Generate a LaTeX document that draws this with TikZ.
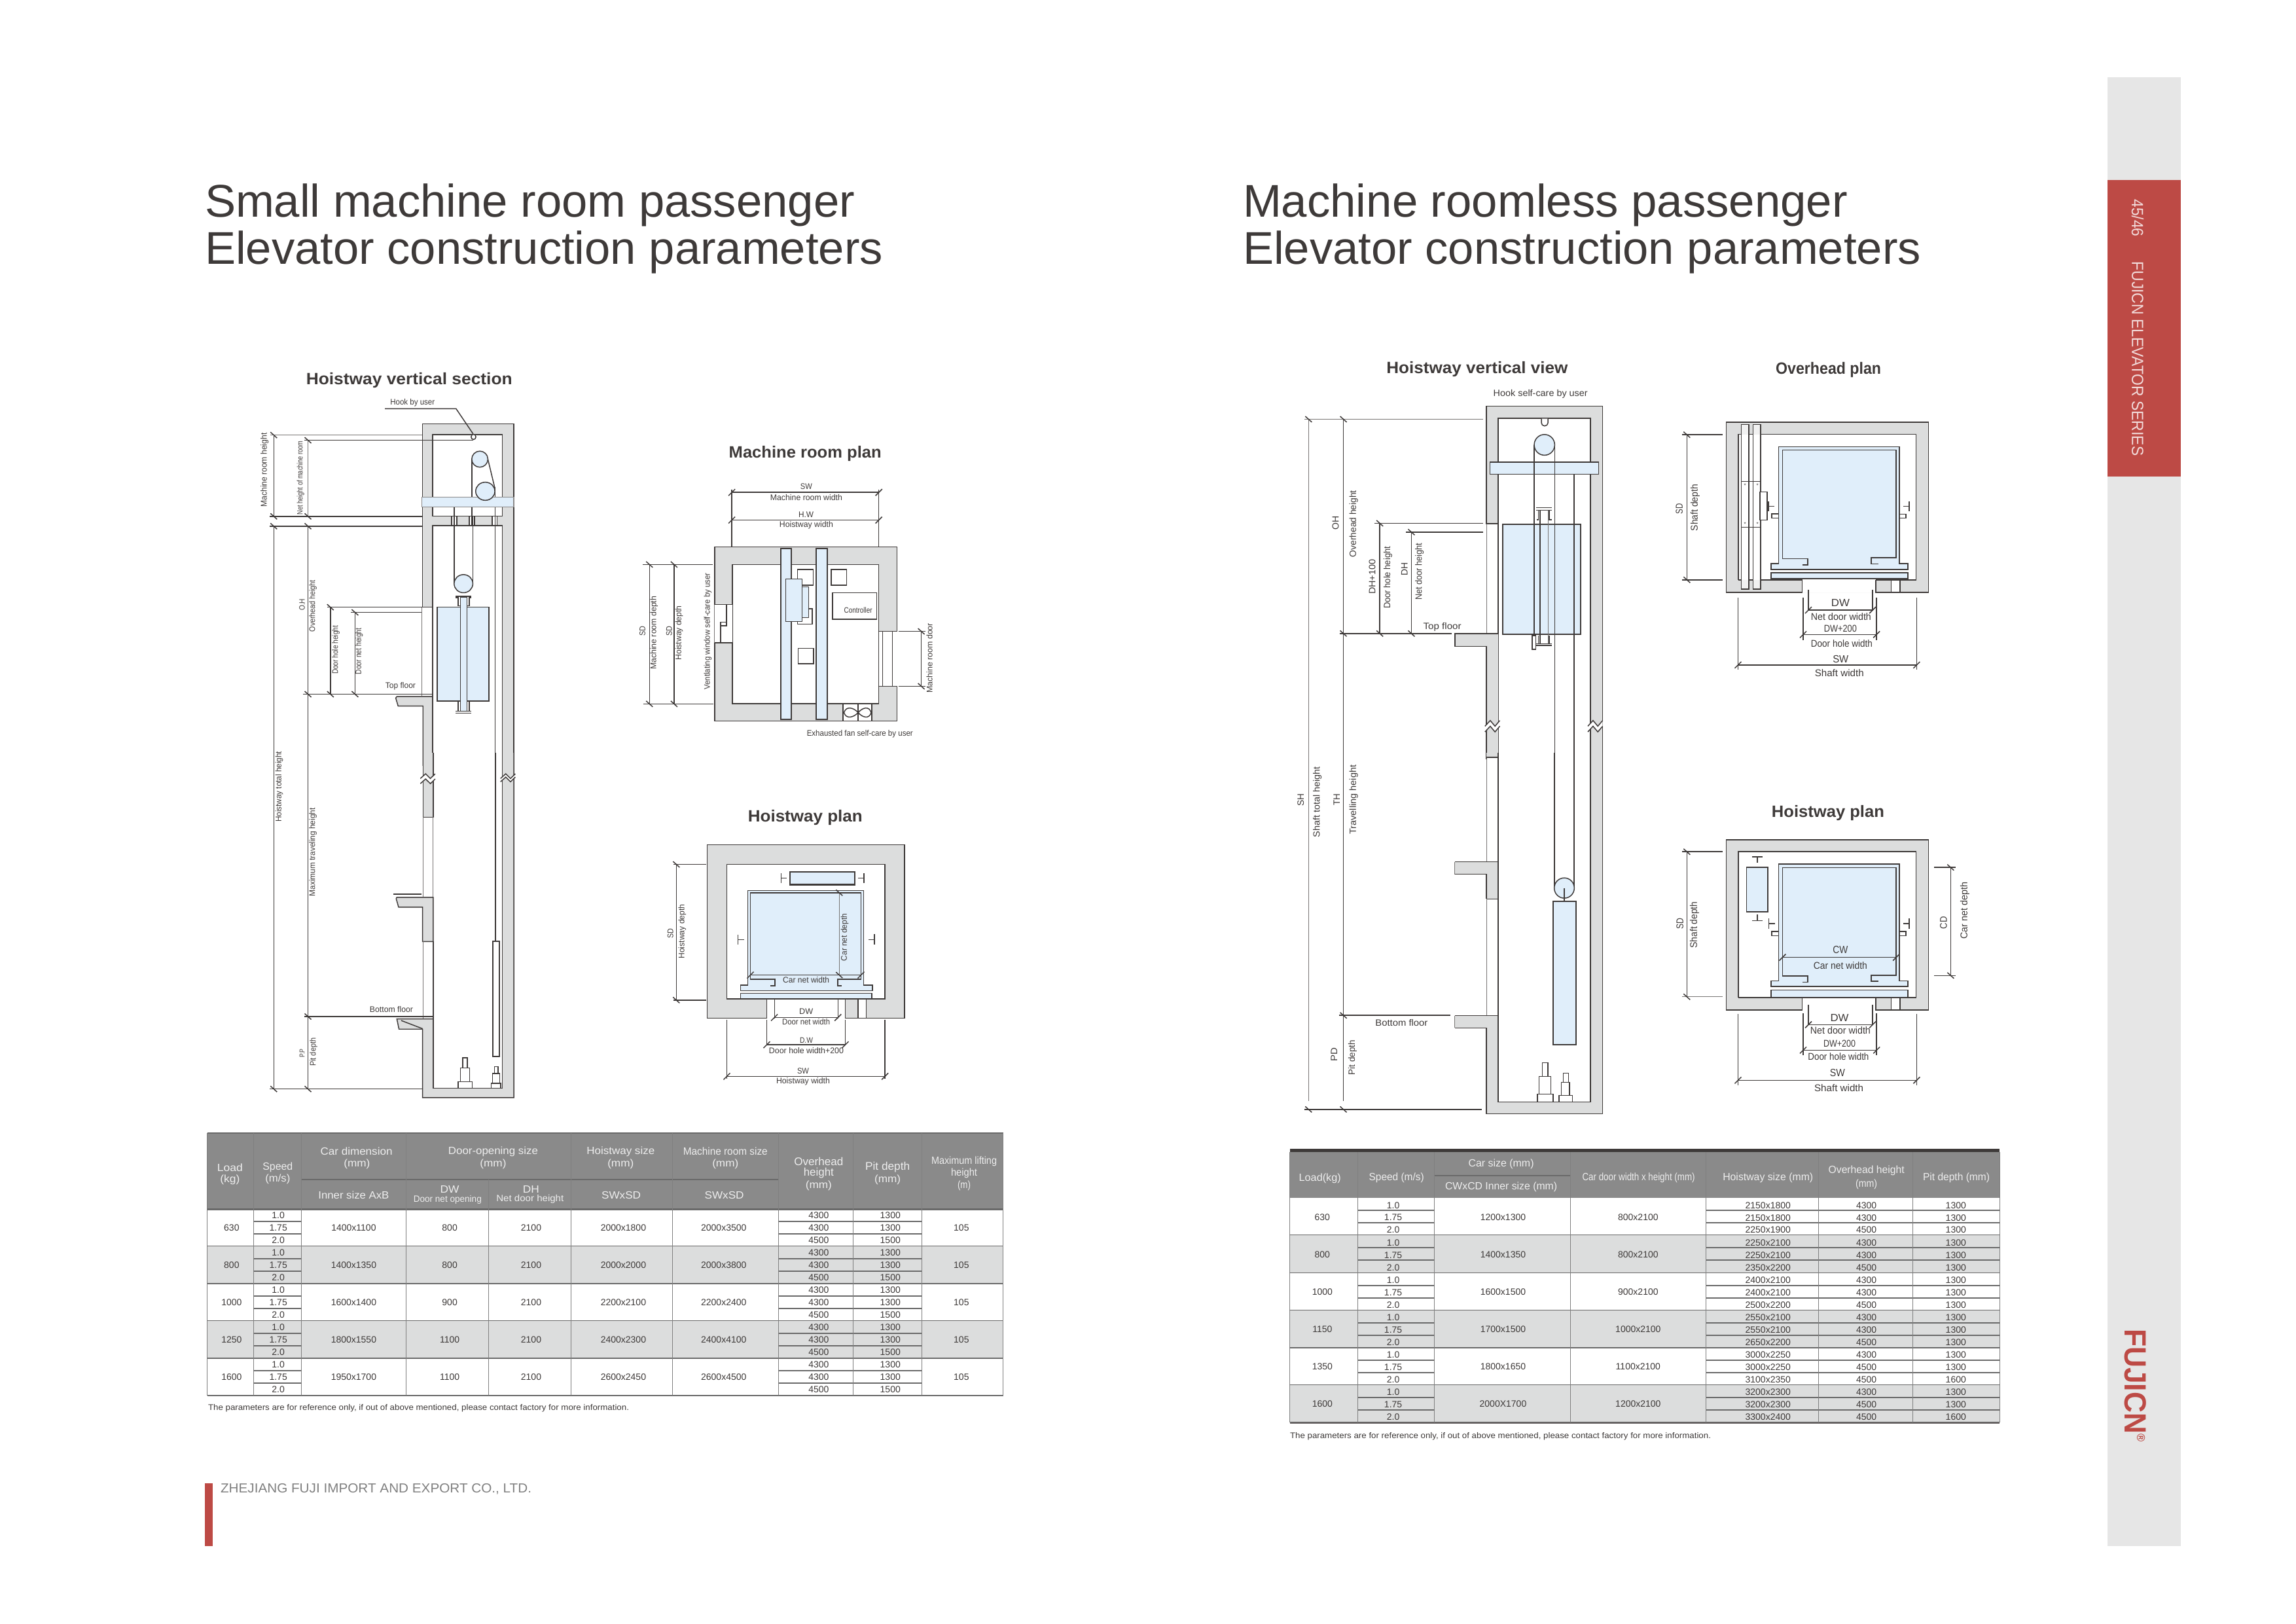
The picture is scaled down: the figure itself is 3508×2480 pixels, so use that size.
\documentclass[tikz,border=0pt]{standalone}
\usepackage{graphicx}
\usepackage{fontspec}
\setmainfont{Liberation Sans}
\definecolor{ink}{HTML}{3E3A39}
\definecolor{wallc}{HTML}{DCDDDD}
\definecolor{bluec}{HTML}{E0EEFA}
\definecolor{hdrc}{HTML}{8A8A8A}
\definecolor{hdrt}{HTML}{EDEDED}
\definecolor{redc}{HTML}{BD4A45}
\definecolor{sidec}{HTML}{E6E6E6}
\definecolor{rulec}{HTML}{6A6A6A}
\tikzset{
  zm/.style n args={4}{shift={(#1,#2)},x=#3cm,y=-#4cm},
  txt/.style={inner sep=0pt,outer sep=0pt,text=ink},
  sub/.style={font=\bfseries,yshift=-0.03cm},
  ln/.style={draw=ink,line width=.42pt},
  thk/.style={draw=ink,line width=.52pt},
  thn/.style={draw=ink!70,line width=.3pt},
  wl/.style={fill=wallc,even odd rule},
  bl/.style={draw=ink,line width=.42pt,fill=bluec},
  wt/.style={draw=ink,line width=.42pt,fill=white},
  hd/.style={text=hdrt},
  rl/.style={draw=rulec,line width=.55pt},
  cl/.style={draw=rulec!85,line width=.28pt}
}
\newcounter{lbn}
\newcommand{\Lb}[7][]{\stepcounter{lbn}\pgfmathsetmacro\lbf{#5*0.2845}\pgfmathsetmacro\lbw{#6*0.01}\node[txt,rotate=#4,#1] (t\thelbn) at (#2,#3) {\fontsize{\lbf pt}{\lbf pt}\selectfont\resizebox{\lbw cm}{\height}{#7}};}
\newcommand{\Nb}[5][]{\stepcounter{lbn}\pgfmathsetmacro\lbf{#4*0.2845}\node[txt,#1] (t\thelbn) at (#2,#3) {\fontsize{\lbf pt}{\lbf pt}\selectfont #5};}
\newcommand{\tkb}[2]{\draw[ln] (#1,#2) ++(-0.05cm,0.045cm) -- ++(0.1cm,-0.09cm);}
\newcommand{\tkf}[2]{\draw[ln] (#1,#2) ++(-0.05cm,-0.05cm) -- ++(0.1cm,0.1cm);}
\newcommand{\brk}[4]{%
 \fill[white] (#1,#2) -- ({#1+24},{#2-#4}) -- ({#1+46},#2) -- ({#1+68},{#2-#4}) -- ({#1+68},{#2-#4+#3}) -- ({#1+46},{#2+#3}) -- ({#1+24},{#2-#4+#3}) -- (#1,{#2+#3}) -- cycle;
 \draw[ln] (#1,#2) -- ({#1+24},{#2-#4}) -- ({#1+46},#2) -- ({#1+68},{#2-#4});
 \draw[ln] (#1,{#2+#3}) -- ({#1+24},{#2-#4+#3}) -- ({#1+46},{#2+#3}) -- ({#1+68},{#2-#4+#3});}
\begin{document}
\begin{tikzpicture}[x=0.01cm,y=-0.01cm]
\useasboundingbox (0,0) rectangle (3508,2480);
\fill[white] (0,0) rectangle (3508,2480);
% sidebar
\fill[sidec] (3220,118) rectangle (3332,2362);
\fill[redc] (3220,275) rectangle (3332,728);
\Lb[text=white!80!redc]{3266}{333}{-90}{25}{57}{45/46}
\Lb[text=white!80!redc]{3266}{548}{-90}{25}{297}{FUJICN ELEVATOR SERIES}
\Lb[font=\bfseries,text=redc]{3263}{2117}{-90}{47}{174}{FUJICN\textsuperscript{\tiny ®}}
% titles
\Lb[anchor=west,text=ink]{313}{313}{0}{70}{993}{Small machine room passenger}
\Lb[anchor=west,text=ink]{313}{385}{0}{70}{1036}{Elevator construction parameters}
\Lb[anchor=west,text=ink]{1899}{313}{0}{70}{924}{Machine roomless passenger}
\Lb[anchor=west,text=ink]{1899}{385}{0}{70}{1036}{Elevator construction parameters}
% footer
\fill[redc] (313,2266) rectangle (325,2362);
\Lb[anchor=west,text=gray]{337}{2275}{0}{20}{475}{ZHEJIANG FUJI IMPORT AND EXPORT CO., LTD.}
% notes
\Lb[anchor=west]{318}{2151}{0}{12.5}{643}{The parameters are for reference only, if out of above mentioned, please contact factory for more information.}
\Lb[anchor=west]{1971}{2194}{0}{12.5}{643}{The parameters are for reference only, if out of above mentioned, please contact factory for more information.}

% ---------- Section 1, upper
\begin{scope}[zm={380}{550}{0.003333}{0.003954}]
\Lb[sub]{737}{72}{0}{25}{315}{Hoistway vertical section}
\fill[wl] (797,247) -- (1217,247) -- (1217,1568) -- (1165,1568) -- (1165,640) -- (845,640) -- (845,955) -- (797,955) -- cycle (845,288) rectangle (1165,603);
\draw[ln] (845,955) -- (797,955) -- (797,247) -- (1217,247) -- (1217,1568);
\draw[ln] (1165,1568) -- (1165,640) -- (845,640) -- (845,955);
\draw[ln] (845,288) rectangle (1165,603);
\fill[wl] (845,1300) -- (680,1300) -- (675,1306) -- (686,1337) -- (800,1337) -- (800,1568) -- (845,1568) -- cycle;
\draw[ln] (845,1300) -- (680,1300) -- (675,1306) -- (686,1337) -- (800,1337) -- (800,1568);
\draw[ln] (845,955) -- (845,1568);
\draw[thn] (795,955) -- (795,1300);
\draw[wt] (932,603) rectangle (955,640);
\draw[wt] (1013,603) rectangle (1037,640);
\draw[wt] (1118,603) rectangle (1140,640);
\draw[ln] (1024,383) -- (1024,603);
\draw[ln] (1029,603) -- (1029,865);
\draw[ln] (1024,603) -- (1024,640);
\draw[ln] (943,567) -- (943,860);
\draw[ln] (1131,490) -- (1131,1568);
\draw[ln] (1098,383) -- (1130,495);
\draw[draw=ink!60,line width=.3pt,fill=bluec] (795,530) rectangle (1217,567);
\draw[bl] (1061,383) ellipse [x radius=37,y radius=31];
\draw[bl] (1086,507) ellipse [x radius=44,y radius=35];
\draw[bl] (986,864) ellipse [x radius=43,y radius=35];
\draw[bl] (865,955) rectangle (1103,1317);
\draw[bl] (972,915) rectangle (1002,1357);
\draw[thk] (950,912) -- (1022,912);
\draw[ln] (950,918) -- (962,918) -- (962,950) -- (972,950);
\draw[ln] (1022,918) -- (1012,918) -- (1012,950) -- (1002,950);
\draw[ln] (962,1317) -- (962,1357);
\draw[ln] (1012,1317) -- (1012,1357);
\draw[ln] (950,1357) -- (1022,1357);
\draw[ln] (950,1364) -- (1022,1364);
% hook
\Lb{752}{165}{0}{12.5}{68}{Hook by user}
\draw[ln] (625,188) coordinate (hka) -- (952,188) -- (1030,285);
\draw[wt] (1032,297) ellipse [x radius=11,y radius=10];
% dims
\draw[thn] (100,290) -- (797,290);
\draw[ln] (255,310) -- (1030,310);
\draw[ln] (95,604) -- (797,604);
\draw[ln] (95,642) -- (797,642);
\draw[ln] (360,955) -- (795,955);
\draw[ln] (470,975) -- (792,975);
\draw[ln] (250,1291) -- (845,1291);
\draw[ln] (115,290) -- (115,604);
\draw[thn] (272,310) -- (272,604);
\draw[ln] (115,642) -- (115,1568);
\draw[ln] (272,642) -- (272,1568);
\draw[ln] (375,955) -- (375,1291);
\draw[ln] (488,975) -- (488,1291);
\tkb{115}{290}\tkb{272}{310}\tkb{115}{604}\tkb{272}{604}\tkb{115}{642}\tkb{272}{642}
\tkb{375}{955}\tkb{488}{975}\tkb{272}{1291}\tkb{375}{1291}\tkb{488}{1291}
\Lb{73}{425}{90}{13}{113}{Machine room height}
\Lb{238}{455}{90}{12}{113}{Net height of machine room}
\Lb{245}{945}{90}{12}{18}{O.H}
\Lb{295}{950}{90}{12.5}{79}{Overhead height}
\Lb{400}{1120}{90}{12.5}{74}{Door hole height}
\Lb{507}{1125}{90}{12.5}{71}{Door net height}
\Lb{697}{1260}{0}{12.5}{46}{Top floor}
\end{scope}

% ---------- Section 1, lower
\begin{scope}[zm={380}{1150}{0.003333}{0.003571}]
\fill[wl] (800,0) rectangle (845,275);
\draw[ln] (800,0) -- (800,275) -- (847,275) -- (847,0);
\draw[thn] (800,275) -- (800,618);
\draw[thn] (847,275) -- (847,618);
\fill[wl] (847,618) -- (680,618) -- (677,624) -- (688,660) -- (798,660) -- (798,807) -- (847,807) -- cycle;
\draw[ln] (847,618) -- (680,618) -- (677,624) -- (688,660) -- (798,660) -- (798,807) -- (847,807) -- cycle;
\draw[thn] (800,807) -- (800,1138);
\draw[ln] (847,807) -- (847,1138);
\fill[wl] (847,1138) -- (680,1138) -- (690,1182) -- (798,1182) -- (798,1475) -- (1217,1475) -- (1217,0) -- (1165,0) -- (1165,1435) -- (848,1435) -- cycle;
\draw[ln] (847,1138) -- (680,1138) -- (690,1182) -- (798,1182) -- (798,1475) -- (1217,1475) -- (1217,0);
\draw[ln] (1165,0) -- (1165,1435) -- (848,1435) -- (848,1138);
\draw[ln] (700,1145) -- (798,1180);
\brk{788}{110}{22}{20}
\brk{1156}{110}{14}{20}
\draw[ln] (1133,0) -- (1133,806);
\draw[wt,line width=.6pt] (1121,806) rectangle (1150,1298);
\draw[wt] (983,1304) rectangle (1003,1348);
\draw[wt] (972,1348) rectangle (1014,1407);
\draw[wt] (962,1407) rectangle (1026,1435);
\draw[wt] (1128,1342) rectangle (1145,1372);
\draw[wt] (1120,1372) rectangle (1153,1414);
\draw[wt] (1114,1414) rectangle (1157,1435);
\draw[ln,dashed,dash pattern=on 12pt off 5pt] (665,604) -- (825,604);
\draw[ln] (115,0) -- (115,1438);
\draw[ln] (272,0) -- (272,1438);
\draw[ln] (255,1128) -- (847,1128);
\draw[ln] (95,1438) -- (797,1438);
\tkb{272}{1128}\tkb{115}{1438}\tkb{272}{1438}
\Lb{140}{145}{90}{12.5}{108}{Hoistway total height}
\Lb{295}{425}{90}{12.5}{135}{Maximum traveling height}
\Lb{655}{1097}{0}{12.5}{66}{Bottom floor}
\Lb{245}{1285}{90}{11}{13}{P.P}
\Lb{298}{1280}{90}{12.5}{43}{Pit depth}
\end{scope}

% ---------- Machine room plan
\begin{scope}[zm={960}{670}{0.003333}{0.003333}]
\Lb[sub]{812}{60}{0}{25}{233}{Machine room plan}
\fill[wl] (396,497) rectangle (1233,1297) (478,578) rectangle (1150,1217);
\draw[ln] (396,497) rectangle (1233,1297);
\draw[ln] (478,578) rectangle (1150,1217);
\fill[white] (1151,885) rectangle (1234,1137);
\draw[ln] (1150,885) -- (1233,885);
\draw[ln] (1150,1137) -- (1233,1137);
\draw[ln] (1167,885) -- (1167,1137);
\draw[ln] (1213,885) -- (1213,1137);
\fill[white] (395,762) rectangle (477,937);
\draw[ln] (396,762) -- (478,762);
\draw[ln] (396,937) -- (478,937);
\draw[ln] (450,762) -- (450,860) -- (423,860) -- (423,937);
\draw[ln] (423,842) -- (450,842);
\draw[ln] (423,842) -- (423,860);
\draw[thn] (396,762) -- (396,937);
\draw[wt] (986,1217) rectangle (1118,1297);
\draw[ln] (1055,1217) -- (1055,1297);
\draw[ln] (990,1258) .. controls (1000,1225) and (1035,1235) .. (1055,1258) .. controls (1075,1280) and (1105,1290) .. (1115,1258) .. controls (1105,1225) and (1075,1235) .. (1055,1258) .. controls (1035,1280) and (1000,1290) .. (990,1258);
\draw[bl,line width=.6pt] (699,505) rectangle (749,1290);
\draw[bl,line width=.6pt] (863,505) rectangle (913,1290);
\draw[wt] (776,601) rectangle (849,673);
\draw[wt] (931,601) rectangle (1002,673);
\draw[wt] (776,781) rectangle (845,852);
\draw[wt] (779,963) rectangle (850,1034);
\draw[bl] (797,681) rectangle (828,821);
\draw[bl] (722,645) rectangle (797,840);
\draw[wt] (938,707) rectangle (1141,829);
\Lb{1055}{788}{0}{12}{43}{Controller}
\draw[ln] (475,235) -- (475,497);
\draw[ln] (1150,235) -- (1150,497);
\draw[ln] (475,247) -- (1150,247);
\draw[ln] (475,374) -- (1150,374);
\tkf{475}{247}\tkf{1150}{247}\tkf{475}{374}\tkf{1150}{374}
\Lb{817}{220}{0}{12.5}{18}{SW}
\Lb{817}{270}{0}{12.5}{110}{Machine room width}
\Lb{816}{350}{0}{12.5}{23}{H.W}
\Lb{817}{397}{0}{12.5}{82}{Hoistway width}
\draw[ln] (65,578) -- (388,578);
\draw[ln] (68,1218) -- (390,1218);
\draw[ln] (97,578) -- (97,1218);
\draw[ln] (210,578) -- (210,1218);
\tkb{97}{578}\tkb{210}{578}\tkb{97}{1218}\tkb{210}{1218}
\Lb{65}{883}{90}{12.5}{15}{SD}
\Lb{118}{892}{90}{12.5}{112}{Machine room depth}
\Lb{187}{883}{90}{12.5}{15}{SD}
\Lb{233}{892}{90}{12.5}{83}{Hoistway depth}
\Lb{365}{885}{90}{12.5}{178}{Ventlating window self-care by user}
\draw[ln] (1240,885) -- (1365,885);
\draw[ln] (1240,1137) -- (1365,1137);
\draw[ln] (1345,885) -- (1345,1137);
\tkb{1345}{885}\tkb{1345}{1137}
\Lb{1383}{1008}{90}{12.5}{107}{Machine room door}
\Lb{1063}{1355}{0}{12.5}{162}{Exhausted fan self-care by user}
\end{scope}

% ---------- Hoistway plan, left
\begin{scope}[zm={1020}{1230}{0.003333}{0.003333}]
\Lb[sub]{632}{47}{0}{25}{175}{Hoistway plan}
\fill[wl] (182,182) rectangle (1087,978) (272,272) rectangle (997,890);
\draw[ln] (182,978) -- (182,182) -- (1087,182) -- (1087,978) -- (816,978) -- (816,890) -- (997,890) -- (997,272) -- (272,272) -- (272,890) -- (455,890) -- (455,978) -- cycle;
\fill[white] (456,889) rectangle (815,979);
\draw[ln] (455,890) -- (455,978);
\draw[ln] (816,890) -- (816,978);
\draw[ln] (492,890) -- (492,978);
\draw[ln] (782,890) -- (782,978);
\draw[wt] (875,890) rectangle (912,978);
\draw[bl,line width=.6pt] (563,307) rectangle (859,365);
\draw[ln] (522,312) -- (522,358);
\draw[ln] (522,335) -- (548,335);
\draw[ln] (901,312) -- (901,358);
\draw[ln] (875,335) -- (901,335);
\draw[ln] (323,595) -- (323,640);
\draw[ln] (323,618) -- (352,618);
\draw[ln] (949,592) -- (949,640);
\draw[ln] (922,618) -- (949,618);
\draw[bl] (368,392) -- (900,392) -- (900,826) -- (941,826) -- (941,852) -- (335,852) -- (335,826) -- (368,826) -- cycle;
\draw[thk] (472,828) -- (493,828) -- (493,798) -- (380,798) -- (380,402) -- (888,402) -- (888,798) -- (782,798) -- (782,828) -- (798,828);
\draw[bl] (335,864) rectangle (937,890);
\draw[ln] (380,780) -- (888,780);
\draw[thn] (788,402) -- (788,780);
\tkb{788}{402}\tkb{788}{780}\tkf{380}{780}\tkf{888}{780}
\Lb{813}{607}{90}{12.5}{72}{Car net depth}
\Lb{636}{802}{0}{12.5}{71}{Car net width}
\draw[ln] (490,975) -- (782,975);
\tkf{490}{975}\tkf{782}{975}
\Lb{636}{948}{0}{12.5}{21}{DW}
\Lb{636}{994}{0}{12.5}{73}{Door net width}
\draw[ln] (455,985) -- (455,1100);
\draw[ln] (816,985) -- (816,1100);
\draw[ln] (455,1100) -- (816,1100);
\tkf{455}{1100}\tkf{816}{1100}
\Lb{637}{1079}{0}{12}{20}{D.W}
\Lb{637}{1127}{0}{12.5}{114}{Door hole width+200}
\draw[ln] (272,985) -- (272,1255);
\draw[ln] (998,985) -- (998,1255);
\draw[ln] (272,1245) -- (998,1245);
\tkf{272}{1245}\tkf{998}{1245}
\Lb{622}{1219}{0}{12.5}{18}{SW}
\Lb{622}{1268}{0}{12.5}{82}{Hoistway width}
\draw[ln] (28,272) -- (177,272);
\draw[ln] (28,895) -- (177,895);
\draw[ln] (40,272) -- (40,895);
\tkb{40}{272}\tkb{40}{895}
\Lb{13}{590}{90}{12.5}{15}{SD}
\Lb{67}{580}{90}{12.5}{83}{Hoistway depth}
\end{scope}

% ---------- Vertical view, upper
\begin{scope}[zm={1980}{540}{0.003333}{0.003954}]
\Lb[sub]{832}{53}{0}{25}{277}{Hoistway vertical view}
\Lb{1123}{156}{0}{14}{144}{Hook self-care by user}
\fill[wl] (875,203) -- (1407,203) -- (1407,1568) -- (1352,1568) -- (1352,250) -- (929,250) -- (929,658) -- (875,658) -- cycle;
\draw[ln] (929,658) -- (875,658) -- (875,203) -- (1407,203) -- (1407,1568);
\draw[ln] (1352,1568) -- (1352,250) -- (929,250) -- (929,1568);
\draw[thn] (875,658) -- (875,1082);
\fill[wl] (929,1082) -- (730,1082) -- (730,1131) -- (875,1131) -- (875,1560) -- (929,1560) -- cycle;
\draw[ln] (929,1082) -- (730,1082) -- (730,1131) -- (875,1131) -- (875,1568);
\draw[ln] (875,1560) -- (929,1560);
\brk{868}{1440}{22}{22}
\brk{1340}{1440}{22}{22}
\draw[wt] (1127,252) -- (1127,268) arc[start angle=180,end angle=360,x radius=15,y radius=-12] -- (1157,252);
\draw[bl] (1141,353) ellipse [x radius=47,y radius=40];
\draw[bl] (891,420) rectangle (1390,467);
\draw[bl] (950,660) rectangle (1307,1085);
\draw[ln] (1094,353) -- (1094,1090);
\draw[ln] (1188,353) -- (1188,1568);
\draw[ln] (1277,467) -- (1277,1568);
\draw[ln] (1121,605) -- (1121,1122);
\draw[thn] (1157,605) -- (1157,1122);
\draw[ln] (1103,595) -- (1175,595);
\draw[ln] (1103,605) -- (1175,605);
\draw[ln] (1105,606) -- (1113,606) -- (1113,642) -- (1105,642);
\draw[ln] (1175,606) -- (1163,606) -- (1163,642) -- (1175,642);
\draw[ln] (1113,1090) -- (1113,1120);
\draw[ln] (1163,1090) -- (1163,1120) ;
\draw[ln] (1103,1122) -- (1175,1122);
\draw[ln] (1103,1128) -- (1175,1128);
\draw[wt] (1085,1090) rectangle (1101,1143);
\draw[thn] (40,254) -- (860,254);
\draw[ln] (360,656) -- (860,656);
\draw[ln] (505,690) -- (860,690);
\draw[ln] (200,1082) -- (715,1082);
\draw[thn] (58,254) -- (58,1568);
\draw[thk] (218,254) -- (218,1568);
\draw[ln] (385,656) -- (385,1082);
\draw[ln] (530,690) -- (530,1082);
\tkb{58}{254}\tkb{218}{254}\tkb{385}{656}\tkb{530}{690}\tkb{218}{1082}\tkb{385}{1082}\tkb{530}{1082}
\Lb{182}{655}{90}{14}{21}{OH}
\Lb{265}{658}{90}{14}{102}{Overhead height}
\Lb{350}{863}{90}{14}{53}{DH+100}
\Lb{422}{866}{90}{14}{95}{Door hole height}
\Lb{498}{832}{90}{14}{20}{DH}
\Lb{567}{843}{90}{14}{87}{Net door height}
\Lb{672}{1056}{0}{14}{58}{Top floor}
\end{scope}

% ---------- Vertical view, lower
\begin{scope}[zm={1980}{1150}{0.003333}{0.003764}]
\fill[wl] (875,0) rectangle (929,18);
\draw[ln] (875,18) -- (929,18);
\draw[thn] (875,18) -- (875,442);
\draw[ln] (929,0) -- (929,442);
\fill[wl] (929,442) -- (730,442) -- (730,492) -- (875,492) -- (875,592) -- (929,592) -- cycle;
\draw[ln] (929,592) -- (875,592);
\draw[ln] (875,592) -- (875,492) -- (730,492);
\draw[thn] (730,492) -- (730,442);
\draw[ln] (730,442) -- (929,442) -- (929,1065);
\draw[thn] (875,592) -- (875,1065);
\fill[wl] (875,1115) -- (875,1462) -- (1407,1462) -- (1407,0) -- (1352,0) -- (1352,1415) -- (929,1415) -- (929,1065) -- (730,1065) -- (730,1115) -- cycle;
\draw[ln] (730,1065) -- (929,1065) -- (929,1415) -- (1352,1415) -- (1352,0);
\draw[ln] (1407,0) -- (1407,1462) -- (875,1462) -- (875,1115) -- (730,1115);
\draw[thn] (730,1115) -- (730,1065);
\draw[ln] (1187,0) -- (1187,548);
\draw[ln] (1277,0) -- (1277,548);
\draw[bl] (1232,548) ellipse [x radius=46,y radius=41];
\draw[ln] (1232,548) -- (1232,602);
\draw[bl,line width=.55pt] (1181,602) rectangle (1285,1182);
\draw[wt] (1131,1255) rectangle (1157,1311);
\draw[wt] (1117,1311) rectangle (1170,1383);
\draw[wt] (1108,1383) rectangle (1181,1415);
\draw[wt] (1227,1298) rectangle (1252,1335);
\draw[wt] (1219,1335) rectangle (1256,1388);
\draw[wt] (1208,1388) rectangle (1269,1415);
\draw[thn] (58,0) -- (58,1412);
\draw[thk] (218,0) -- (218,1412);
\draw[ln] (198,1064) -- (710,1064);
\draw[ln] (38,1445) -- (852,1445);
\tkb{218}{1064}\tkb{58}{1445}\tkb{218}{1445}
\Lb{22}{190}{90}{14}{19}{SH}
\Lb{98}{200}{90}{14}{108}{Shaft total height}
\Lb{187}{190}{90}{14}{18}{TH}
\Lb{265}{190}{90}{14}{106}{Travelling height}
\Lb{485}{1093}{0}{14}{80}{Bottom floor}
\Lb{175}{1222}{90}{14}{21}{PD}
\Lb{260}{1235}{90}{14}{53}{Pit depth}
\end{scope}

% ---------- Overhead plan
\begin{scope}[zm={2550}{540}{0.003333}{0.003333}]
\Lb[sub]{732}{65}{0}{25}{161}{Overhead plan}
\fill[wl] (263,315) rectangle (1191,1097) (319,371) rectangle (1135,1040);
\draw[ln] (612,1040) -- (612,1097) -- (263,1097) -- (263,315) -- (1191,315) -- (1191,1097) -- (950,1097) -- (950,1040);
\draw[ln] (319,1040) -- (319,371) -- (1135,371) -- (1135,1040) -- (950,1040);
\draw[ln] (319,1040) -- (612,1040);
\fill[white] (613,1039) rectangle (949,1098);
\draw[ln] (612,1040) -- (612,1097);
\draw[ln] (950,1040) -- (950,1097);
\draw[wt] (1020,1040) rectangle (1060,1097);
\draw[ln,fill=wallc!40!white] (332,326) rectangle (366,1081);
\draw[ln,fill=wallc!40!white] (386,326) rectangle (420,1081);
\fill[white] (333,373) rectangle (365,1039);
\fill[white] (387,373) rectangle (419,1039);
\draw[ln] (332,326) rectangle (366,1081);
\draw[ln] (386,326) rectangle (420,1081);
\draw[ln] (332,588) -- (418,588);
\draw[ln] (332,797) -- (418,797);
\draw[wt] (418,636) rectangle (451,764);
\draw[ln,line width=.7pt] (455,680) -- (455,725);
\draw[ln] (455,702) -- (485,702);
\foreach \ax/\ay in {349/607,406/607,349/783,406/783}{\Nb{\ax}{\ay}{8}{*}}
\draw[wt] (471,736) rectangle (503,756);
\draw[wt] (1057,737) rectangle (1088,756);
\draw[ln] (1075,702) -- (1103,702);
\draw[ln] (1103,678) -- (1103,725);
\draw[bl] (503,428) -- (1057,428) -- (1057,964) -- (1097,964) -- (1097,991) -- (468,991) -- (468,964) -- (503,964) -- cycle;
\draw[thk] (613,970) -- (637,970) -- (637,942) -- (521,942) -- (521,443) -- (1043,443) -- (1043,938) -- (928,938) -- (928,966) -- (960,966);
\draw[bl] (468,1006) rectangle (1097,1033);
\draw[ln] (640,1085) -- (640,1180);
\draw[ln] (935,1085) -- (935,1180);
\draw[ln] (640,1178) -- (935,1178);
\tkf{640}{1178}\tkf{935}{1178}
\Lb{787}{1144}{0}{16}{28}{DW}
\Lb{790}{1208}{0}{15}{92}{Net door width}
\draw[ln] (616,1120) -- (616,1315);
\draw[ln] (953,1120) -- (953,1315);
\draw[ln] (616,1290) -- (953,1290);
\tkf{616}{1290}\tkf{953}{1290}
\Lb{787}{1262}{0}{15}{50}{DW+200}
\Lb{793}{1332}{0}{15}{94}{Door hole width}
\draw[ln] (317,1122) -- (317,1452);
\draw[ln] (1137,1122) -- (1137,1452);
\draw[ln] (317,1430) -- (1137,1430);
\tkf{317}{1430}\tkf{1137}{1430}
\Lb{788}{1403}{0}{16}{24}{SW}
\Lb{782}{1467}{0}{15}{75}{Shaft width}
\draw[ln] (60,373) -- (247,373);
\draw[ln] (60,1039) -- (247,1039);
\draw[ln] (82,373) -- (82,1039);
\tkb{82}{373}\tkb{82}{1039}
\Lb{47}{713}{90}{15}{16}{SD}
\Lb{120}{708}{90}{15}{71}{Shaft depth}
\end{scope}

% ---------- Hoistway plan, right
\begin{scope}[zm={2550}{1210}{0.003333}{0.003333}]
\Lb[sub]{730}{88}{0}{25}{172}{Hoistway plan}
\fill[wl] (263,219) rectangle (1191,1000) (319,274) rectangle (1135,943);
\fill[white] (613,942) rectangle (949,1001);
\draw[ln] (612,943) -- (612,1000) -- (263,1000) -- (263,219) -- (1191,219) -- (1191,1000) -- (950,1000) -- (950,943);
\draw[ln] (319,943) -- (319,274) -- (1135,274) -- (1135,943) -- (950,943);
\draw[ln] (319,943) -- (612,943);
\draw[wt] (1020,943) rectangle (1060,1000);
\draw[bl] (356,346) rectangle (454,550);
\draw[ln] (382,298) -- (430,298);
\draw[ln] (405,298) -- (405,325);
\draw[ln] (382,590) -- (430,590);
\draw[ln] (405,563) -- (405,590);
\draw[ln] (458,604) -- (488,604);
\draw[ln] (458,580) -- (458,628);
\draw[ln] (1075,604) -- (1103,604);
\draw[ln] (1103,580) -- (1103,628);
\draw[wt] (471,640) rectangle (503,660);
\draw[wt] (1057,640) rectangle (1088,660);
\draw[bl] (503,331) -- (1057,331) -- (1057,867) -- (1097,867) -- (1097,893) -- (468,893) -- (468,867) -- (503,867) -- cycle;
\draw[thk] (613,873) -- (637,873) -- (637,845) -- (521,845) -- (521,347) -- (1043,347) -- (1043,842) -- (928,842) -- (928,868) -- (960,868);
\draw[bl] (468,909) rectangle (1097,943);
\draw[ln] (521,759) -- (1043,759);
\tkf{521}{759}\tkf{1043}{759}
\Lb{787}{725}{0}{16}{23}{CW}
\Lb{787}{798}{0}{15}{82}{Car net width}
\draw[ln] (1217,346) -- (1315,346);
\draw[ln] (1217,842) -- (1315,842);
\draw[ln] (1293,346) -- (1293,842);
\tkb{1293}{346}\tkb{1293}{842}
\Lb{1260}{600}{90}{15}{19}{CD}
\Lb{1358}{545}{90}{15}{87}{Car net depth}
\draw[ln] (60,274) -- (247,274);
\draw[thn] (60,940) -- (247,940);
\draw[ln] (82,274) -- (82,940);
\tkb{82}{274}\tkb{82}{940}
\Lb{50}{603}{90}{15}{17}{SD}
\Lb{117}{610}{90}{15}{71}{Shaft depth}
\draw[ln] (640,975) -- (640,1070);
\draw[ln] (935,975) -- (935,1070);
\draw[ln] (640,1068) -- (935,1068);
\tkf{640}{1068}\tkf{935}{1068}
\Lb{783}{1038}{0}{16}{28}{DW}
\Lb{787}{1095}{0}{15}{92}{Net door width}
\draw[ln] (616,1015) -- (616,1208);
\draw[ln] (953,1015) -- (953,1208);
\draw[ln] (616,1185) -- (953,1185);
\tkf{616}{1185}\tkf{953}{1185}
\Lb{783}{1155}{0}{15}{49}{DW+200}
\Lb{778}{1215}{0}{15}{93}{Door hole width}
\draw[ln] (317,1020) -- (317,1345);
\draw[ln] (1137,1020) -- (1137,1345);
\draw[ln] (317,1323) -- (1137,1323);
\tkf{317}{1323}\tkf{1137}{1323}
\Lb{773}{1290}{0}{16}{23}{SW}
\Lb{780}{1358}{0}{15}{75}{Shaft width}
\end{scope}

% ---------- Table 1
\begin{scope}[zm={300}{1702}{0.00829}{0.003333}]
\fill[hdrc] (20,88) rectangle (1487,436);
\foreach \i/\ld/\car/\dw/\hw/\mr in {0/630/1400x1100/800/2000x1800/2000x3500,1/800/1400x1350/800/2000x2000/2000x3800,2/1000/1600x1400/900/2200x2100/2200x2400,3/1250/1800x1550/1100/2400x2300/2400x4100,4/1600/1950x1700/1100/2600x2450/2600x4500}{
  \pgfmathsetmacro\yb{436+\i*171.2}
  \pgfmathsetmacro\ye{\yb+171.2}
  \pgfmathsetmacro\ym{\yb+87}
  \ifodd\i \fill[wallc] (20,\yb) rectangle (1487,\ye); \fi
  \Nb{65}{\ym}{14}{\ld}
  \Nb{290}{\ym}{14}{\car}
  \Nb{467}{\ym}{14}{\dw}
  \Nb{617}{\ym}{14}{2100}
  \Nb{787}{\ym}{14}{\hw}
  \Nb{972}{\ym}{14}{\mr}
  \Nb{1410}{\ym}{14}{105}
  \foreach \s/\sp/\oh/\pt in {0/1.0/4300/1300,1/1.75/4300/1300,2/2.0/4500/1500}{
    \pgfmathsetmacro\yc{\yb+30+\s*57}
    \Nb{151}{\yc}{14}{\sp}
    \Nb{1147}{\yc}{14}{\oh}
    \Nb{1279}{\yc}{14}{\pt}
  }
  \foreach \s in {1,2}{
    \pgfmathsetmacro\yc{\yb+\s*57}
    \draw[rl] (106,\yc) -- (193,\yc);
    \draw[rl] (1073,\yc) -- (1337,\yc);
  }
  \draw[rl] (20,\ye) -- (1487,\ye);
}
\draw[rl] (20,88) -- (1487,88);
\draw[rl,line width=.8pt] (20,436) -- (1487,436);
\draw[rl] (193,300) -- (1073,300);
\foreach \c in {20,106,193,387,690,877,1073,1210,1337,1487}{\draw[cl] (\c,88) -- (\c,1292);}
\draw[cl] (538,300) -- (538,1292);
\Lb[hd]{62}{245}{0}{16}{39}{Load}
\Lb[hd]{62}{300}{0}{16}{30}{(kg)}
\Lb[hd]{150}{245}{0}{16}{46}{Speed}
\Lb[hd]{150}{298}{0}{16}{38}{(m/s)}
\Lb[hd]{295}{170}{0}{16}{110}{Car dimension}
\Lb[hd]{296}{228}{0}{16}{40}{(mm)}
\Lb[hd]{547}{172}{0}{16}{137}{Door-opening size}
\Lb[hd]{547}{228}{0}{16}{40}{(mm)}
\Lb[hd]{782}{172}{0}{16}{104}{Hoistway size}
\Lb[hd]{782}{230}{0}{16}{40}{(mm)}
\Lb[hd]{975}{172}{0}{16}{129}{Machine room size}
\Lb[hd]{975}{230}{0}{16}{40}{(mm)}
\Lb[hd]{1147}{217}{0}{17}{75}{Overhead}
\Lb[hd]{1147}{272}{0}{17}{46}{height}
\Lb[hd]{1147}{328}{0}{16}{40}{(mm)}
\Lb[hd]{1274}{245}{0}{17}{68}{Pit depth}
\Lb[hd]{1274}{300}{0}{16}{40}{(mm)}
\Lb[hd]{1415}{217}{0}{16}{100}{Maximum lifting}
\Lb[hd]{1415}{272}{0}{16}{40}{height}
\Lb[hd]{1415}{328}{0}{16}{20}{(m)}
\Lb[hd]{290}{372}{0}{16}{108}{Inner size AxB}
\Lb[hd]{467}{345}{0}{16}{29}{DW}
\Lb[hd]{463}{392}{0}{14}{104}{Door net opening}
\Lb[hd]{617}{345}{0}{16}{25}{DH}
\Lb[hd]{615}{390}{0}{14}{103}{Net door height}
\Lb[hd]{783}{372}{0}{16}{60}{SWxSD}
\Lb[hd]{973}{372}{0}{16}{60}{SWxSD}
\end{scope}

% ---------- Table 2
\begin{scope}[zm={1960}{1742}{0.00727}{0.003333}]
\fill[hdrc] (15,55) rectangle (1507,265);
\foreach \i/\ld/\car/\dr/\ha/\hb/\hc/\oa/\ob/\oc/\pc in {0/630/1200x1300/800x2100/2150x1800/2150x1800/2250x1900/4300/4300/4500/1300,1/800/1400x1350/800x2100/2250x2100/2250x2100/2350x2200/4300/4300/4500/1300,2/1000/1600x1500/900x2100/2400x2100/2400x2100/2500x2200/4300/4300/4500/1300,3/1150/1700x1500/1000x2100/2550x2100/2550x2100/2650x2200/4300/4300/4500/1300,4/1350/1800x1650/1100x2100/3000x2250/3000x2250/3100x2350/4300/4500/4500/1600,5/1600/2000X1700/1200x2100/3200x2300/3200x2300/3300x2400/4300/4500/4500/1600}{
  \pgfmathsetmacro\yb{265+\i*171.7}
  \pgfmathsetmacro\ye{\yb+171.7}
  \pgfmathsetmacro\ym{\yb+87}
  \ifodd\i \fill[wallc] (15,\yb) rectangle (1507,\ye); \fi
  \Nb{83}{\ym}{14}{\ld}
  \Nb{463}{\ym}{14}{\car}
  \Nb{747}{\ym}{14}{\dr}
  \pgfmathsetmacro\yc{\yb+33}
  \Nb{232}{\yc}{14}{1.0}
  \Nb{1020}{\yc}{14}{\ha}
  \Nb{1227}{\yc}{14}{\oa}
  \Nb{1415}{\yc}{14}{1300}
  \pgfmathsetmacro\yc{\yb+90}
  \Nb{232}{\yc}{14}{1.75}
  \Nb{1020}{\yc}{14}{\hb}
  \Nb{1227}{\yc}{14}{\ob}
  \Nb{1415}{\yc}{14}{1300}
  \pgfmathsetmacro\yc{\yb+147}
  \Nb{232}{\yc}{14}{2.0}
  \Nb{1020}{\yc}{14}{\hc}
  \Nb{1227}{\yc}{14}{\oc}
  \Nb{1415}{\yc}{14}{\pc}
  \foreach \s in {1,2}{
    \pgfmathsetmacro\yc{\yb+\s*57.2}
    \draw[rl] (158,\yc) -- (318,\yc);
    \draw[rl] (889,\yc) -- (1507,\yc);
  }
  \draw[rl] (15,\ye) -- (1507,\ye);
}
\fill[ink] (15,40) rectangle (1507,55);
\fill[ink!80] (15,1295) rectangle (1507,1301);
\draw[rl] (318,163) -- (605,163);
\foreach \c in {15,158,318,605,889,1126,1325,1507}{\draw[cl] (\c,55) -- (\c,1295);}
\Lb[hd]{78}{175}{0}{16}{64}{Load(kg)}
\Lb[hd]{239}{172}{0}{16}{84}{Speed (m/s)}
\Lb[hd]{459}{108}{0}{16}{100}{Car size (mm)}
\Lb[hd]{459}{213}{0}{16}{171}{CWxCD Inner size (mm)}
\Lb[hd]{748}{172}{0}{16}{172}{Car door width x height (mm)}
\Lb[hd]{1020}{172}{0}{16}{138}{Hoistway size (mm)}
\Lb[hd]{1227}{140}{0}{16}{116}{Overhead height}
\Lb[hd]{1227}{203}{0}{16}{33}{(mm)}
\Lb[hd]{1416}{172}{0}{16}{102}{Pit depth (mm)}
\end{scope}
\end{tikzpicture}
\end{document}
